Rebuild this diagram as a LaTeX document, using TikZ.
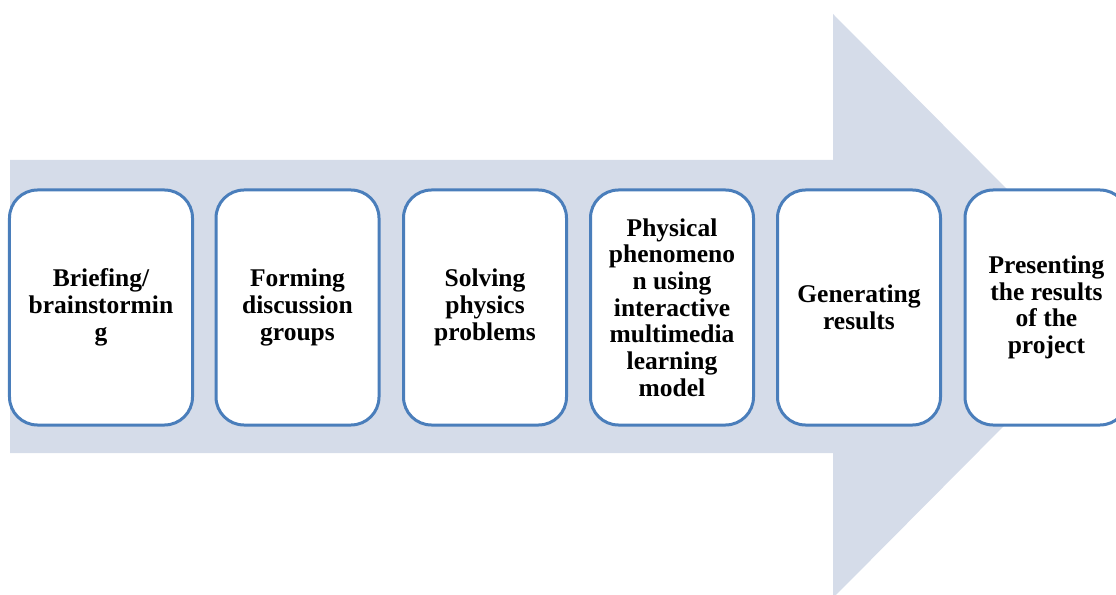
\documentclass[tikz,border=0pt]{standalone}
\usepackage{fontspec}
\setmainfont{Liberation Serif}
\usepackage{tikz}
\usetikzlibrary{positioning,calc}
\definecolor{arrowfill}{RGB}{213,220,233}
\definecolor{stepline}{RGB}{74,126,187}

\begin{document}
\begin{tikzpicture}[x=1bp, y=-1bp,
  stepbox/.style={draw=stepline, line width=3bp, fill=white, rounded corners=28bp,
    minimum width=163bp, minimum height=235bp, align=center, inner sep=0pt,
    font=\fontsize{25.5bp}{26.7bp}\selectfont\bfseries}]

\clip (0,0) rectangle (1116,595);
\useasboundingbox (0,0) rectangle (1116,595);

% big arrow behind the steps
\fill[arrowfill] (10,160) -- (833,160) -- (833,14) -- (1123,306)
  -- (833,598) -- (833,453) -- (10,453) -- cycle;

% steps
\node[stepbox, minimum width=183bp] (brief) at (101,307.5) {Briefing/\\brainstormin\\g};
\node[stepbox] (groups) at (297.5,307.5) {Forming\\discussion\\groups};
\node[stepbox] (solve) at (485,307.5) {Solving\\physics\\problems};
\node[stepbox] (phenom) at (672,307.5) {Physical\\phenomeno\\n using\\interactive\\multimedia\\learning\\model};
\node[stepbox] (results) at (859,307.5) {Generating\\results};
\node[stepbox] (present) at (1046.5,307.5) {Presenting\\the results\\of the\\project};
\end{tikzpicture}
\end{document}
